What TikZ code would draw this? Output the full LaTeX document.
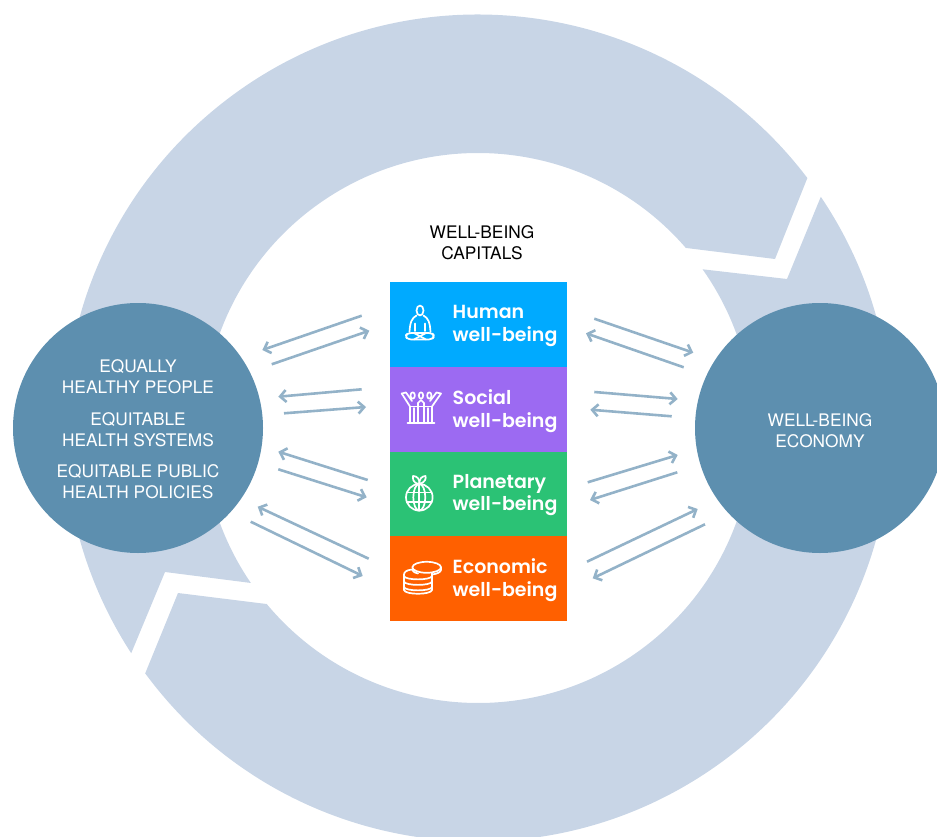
\documentclass[tikz,border=0pt]{standalone}
\usepackage{fontspec}
\setmainfont{Lato}
\newfontfamily\capfont{TeX Gyre Heros}
\newfontfamily\headfont{Poppins}[UprightFont=* SemiBold]
\usetikzlibrary{arrows.meta,calc}
\definecolor{ringc}{HTML}{C8D5E6}
\definecolor{circc}{HTML}{5D8FAF}
\definecolor{arrc}{HTML}{93B2C8}
\definecolor{hum}{HTML}{00AAFF}
\definecolor{soc}{HTML}{9C6AF2}
\definecolor{pla}{HTML}{2BC275}
\definecolor{eco}{HTML}{FF6000}
\tikzset{
  ringpart/.style={fill=ringc,draw=none},
  hub/.style={circle,fill=circc,draw=none,minimum size=250pt,inner sep=0pt},
  hubtext/.style={text=white,align=center,font=\capfont\fontsize{17.3}{21}\selectfont,inner sep=0pt},
  band/.style={minimum width=177pt,inner sep=0pt,draw=none},
  bandtext/.style={text=white,align=left,anchor=west,inner sep=0pt,font=\headfont\fontsize{19}{22.5}\selectfont},
  flow/.style={draw=arrc,line width=2.6pt,-{Straight Barb[length=6pt,width=12pt,line width=2.6pt]}},
  icon/.style={draw=white,line width=1.7pt,line cap=round,line join=round,fill=none}
}
\begin{document}
\begin{tikzpicture}[x=1pt,y=-1pt]
\useasboundingbox (0,0) rectangle (937,837);
\clip (0,0) rectangle (937,837);
\coordinate (c) at (478,428);
% ring
\fill[ringpart] ($(c)+(37.2:413.5pt)$) arc[start angle=37.2,end angle=213,radius=413.5pt]
  -- (165,572) -- ($(c)+(214.3:275pt)$) arc[start angle=214.3,end angle=40.9,radius=275pt]
  -- (775,259) -- cycle;
\fill[ringpart] ($(c)+(216.4:413.5pt)$) arc[start angle=216.4,end angle=394,radius=413.5pt]
  -- (787,279) -- ($(c)+(35.25:275pt)$) arc[start angle=395.25,end angle=219.8,radius=275pt]
  -- (178,593) -- cycle;
% hubs
\node[hub] (left) at (138,428) {};
\node[hub] (right) at (820,428) {};
\node[hubtext] (t1) at (138,376.5) {EQUALLY\\HEALTHY PEOPLE};
\node[hubtext] (t2) at (138,429.5) {EQUITABLE\\HEALTH SYSTEMS};
\node[hubtext] (t3) at (138,481.5) {EQUITABLE PUBLIC\\HEALTH POLICIES};
\node[hubtext] (t4) at (820,430.5) {WELL-BEING\\ECONOMY};
\node[hubtext,text=black] (title) at (482,242.5) {WELL-BEING\\CAPITALS};
% bands
\node[band,fill=hum,minimum height=85pt] (b1) at (478.5,324.5) {};
\node[band,fill=soc,minimum height=85pt] (b2) at (478.5,409.5) {};
\node[band,fill=pla,minimum height=84pt] (b3) at (478.5,494) {};
\node[band,fill=eco,minimum height=85pt] (b4) at (478.5,578.5) {};
\node[bandtext] (l1) at (452.5,326) {Human\\well-being};
\node[bandtext] (l2) at (452.5,411) {Social\\well-being};
\node[bandtext] (l3) at (452.5,495) {Planetary\\well-being};
\node[bandtext] (l4) at (452.5,580) {Economic\\well-being};
% arrows
\foreach \n/\ax/\ay/\bx/\by in {
 a/361.7/315.7/262.3/350, b/271.7/364.3/369.3/330.7,
 c/361.7/389.3/278.3/396.7, d/284/413.3/366/407,
 e/367.7/480/278.3/451.7, f/278.3/469.3/366.7/497.3,
 g/368.7/558.7/257.7/506.7, h/250.7/521.7/362.7/576,
 i/594.3/318.7/693.3/352.7, j/683.7/367.3/586/333.3,
 k/594.3/392/677.7/399, l/671.7/416.3/590.3/409.7,
 m/587.7/482.3/677.7/455, n/677.3/472.3/590/500,
 o/587/561.7/697.7/509, p/705/524.3/592.7/578.3}{
  \coordinate (s\n) at (\ax,\ay);
  \coordinate (e\n) at (\bx,\by);
  \draw[flow] (s\n) -- (e\n);
}
% human icon
\draw[icon] (420,310.5) ellipse[x radius=3.5pt,y radius=5pt];
\draw[icon] (416.5,315.5) .. controls (412,318) and (410,322) .. (409.5,332);
\draw[icon] (423.5,315.5) .. controls (428,318) and (430,322) .. (430.5,332);
\draw[icon] (415,323.5) -- (415,331);
\draw[icon] (425,323.5) -- (425,331);
\draw[icon,rounded corners=3.2pt] (408,333) -- (432,333) -- (434.5,336) -- (432,339.5) -- (408,339.5) -- (405,336) -- cycle;
\draw[icon] (414,339.5) -- (426,333);
\draw[icon] (414,333) -- (426,339.5);
% social icon
\foreach \hx in {412.7,421,429.3}{\draw[icon] (\hx,395.5) ellipse[x radius=2.2pt,y radius=3.2pt];}
\draw[icon] (401.7,393.5) -- (410,406.5) -- (410,423);
\draw[icon] (401.7,393.5) -- (406,392.5) -- (412,401);
\draw[icon] (441,393.5) -- (432,406.5) -- (432,423);
\draw[icon] (441,393.5) -- (436.5,392.5) -- (430,401);
\draw[icon] (407.5,423.3) -- (434.5,423.3);
\draw[icon] (414,408) -- (414,423);
\draw[icon] (418,403) -- (421,400) -- (424,403) -- (424,423);
\draw[icon] (418,403) -- (418,423);
\draw[icon] (428,408) -- (428,423);
\draw[icon] (410,406.5) -- (432,406.5);
% planet icon
\draw[icon] (419.3,497.3) circle[radius=13.3pt];
\draw[icon] (419.3,497.3) ellipse[x radius=6pt,y radius=13.3pt];
\draw[icon] (419.3,484) -- (419.3,510.6);
\draw[icon] (407,492.5) -- (431.6,492.5);
\draw[icon] (407,502) -- (431.6,502);
\draw[icon] (419.3,484) .. controls (412,483) and (413,478) .. (413,476) .. controls (417,476) and (420,479) .. (419.3,484);
\draw[icon] (419.3,484) .. controls (426,482) and (426,478) .. (425.5,476) .. controls (422,476) and (419,479) .. (419.3,484);
% coins icon
\draw[icon] (426.7,567.3) ellipse[x radius=14.3pt,y radius=5.5pt];
\draw[icon] (412.4,567.3) -- (412.4,570);
\draw[icon] (441,567.3) -- (441,570) .. controls (441,572) and (437,574) .. (432,574.5);
\draw[icon] (412.4,570) .. controls (412.4,571) and (414,572.5) .. (418,573.5);
\draw[icon] (412,569.5) .. controls (406,570) and (404,572.5) .. (404,574.5) -- (404,590);
\draw[icon] (432,573) -- (432,590);
\draw[icon] (404,576) .. controls (405,580.5) and (431,580.5) .. (432,576);
\draw[icon] (404,581.5) .. controls (405,586) and (431,586) .. (432,581.5);
\draw[icon] (404,587) .. controls (405,591.5) and (431,591.5) .. (432,587);
\draw[icon] (404,590) .. controls (405,595) and (431,595) .. (432,590);
\end{tikzpicture}
\end{document}
